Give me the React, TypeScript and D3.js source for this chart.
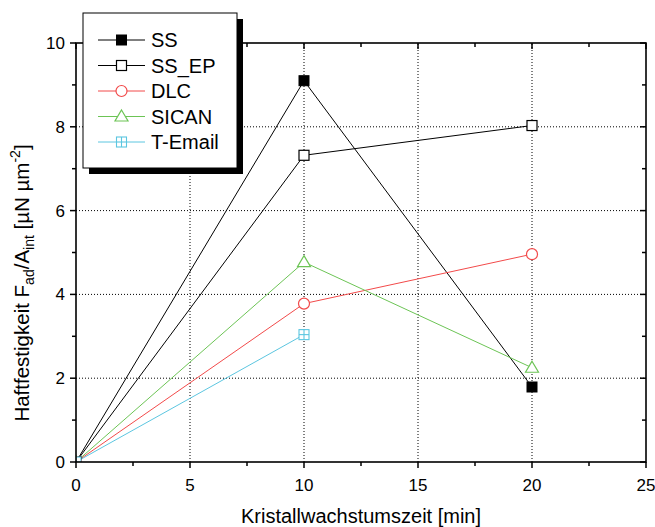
import React from "react";
import * as d3 from "d3";

const times = [0, 10, 20];
const seriesNames = ["SS", "SS_EP", "DLC", "SICAN", "T-Email"];
const ssValues = [0, 9.1, 1.79];
const ssEpValues = [0, 7.32, 8.03];
const dlcValues = [0, 3.78, 4.96];
const sicanValues = [0, 4.77, 2.25];
const tEmailValues = [0, 3.04];
const xTicks = [0, 5, 10, 15, 20, 25];
const yTicks = [0, 2, 4, 6, 8, 10];

const W = 655, H = 527;
const left = 76, right = 646, top = 43, bottom = 462;

const colors: Record<string, string> = {
  SS: "#000000",
  SS_EP: "#000000",
  DLC: "#f24a4a",
  SICAN: "#6cc455",
  "T-Email": "#5cc6e0",
};
const markerType: Record<string, string> = {
  SS: "filledSquare",
  SS_EP: "openSquare",
  DLC: "circle",
  SICAN: "triangle",
  "T-Email": "crossSquare",
};

const seriesValues: Record<string, number[]> = {
  SS: ssValues,
  SS_EP: ssEpValues,
  DLC: dlcValues,
  SICAN: sicanValues,
  "T-Email": tEmailValues,
};

function Marker({ type, x, y, color }: { type: string; x: number; y: number; color: string }) {
  const s = 5;
  if (type === "filledSquare")
    return <rect x={x - s} y={y - s} width={2 * s} height={2 * s} fill={color} stroke={color} strokeWidth={1} />;
  if (type === "openSquare")
    return <rect x={x - s} y={y - s} width={2 * s} height={2 * s} fill="white" stroke={color} strokeWidth={1.2} />;
  if (type === "circle") return <circle cx={x} cy={y} r={5.5} fill="white" stroke={color} strokeWidth={1.2} />;
  if (type === "triangle")
    return (
      <path
        d={`M${x},${y - 6.5} L${x + 6.5},${y + 4.5} L${x - 6.5},${y + 4.5} Z`}
        fill="white"
        stroke={color}
        strokeWidth={1.2}
      />
    );
  return (
    <g stroke={color} strokeWidth={1.1} fill="white">
      <rect x={x - s} y={y - s} width={2 * s} height={2 * s} />
      <line x1={x} y1={y - s} x2={x} y2={y + s} />
      <line x1={x - s} y1={y} x2={x + s} y2={y} />
    </g>
  );
}

export default function App() {
  const xScale = d3.scaleLinear().domain([0, 25]).range([left, right]);
  const yScale = d3.scaleLinear().domain([0, 10]).range([bottom, top]);
  const line = d3
    .line<[number, number]>()
    .x((d) => xScale(d[0]))
    .y((d) => yScale(d[1]));

  const xMinor = d3.range(0, 25.01, 2.5);
  const yMinor = d3.range(0, 10.01, 1);
  const font = "'Liberation Sans', Arial, sans-serif";

  const legendX = 83, legendY = 13, legendW = 154, legendH = 155;
  const legendRowY = (i: number) => 40 + i * 25.5;

  return (
    <svg
      width={W}
      height={H}
      style={{ position: "absolute", left: 0, top: 0, background: "white" }}
      fontFamily={font}
    >
      <defs>
        <clipPath id="plotClip">
          <rect x={left} y={top} width={right - left} height={bottom - top} />
        </clipPath>
      </defs>
      <rect x={0} y={0} width={W} height={H} fill="white" />

      {/* grid */}
      <g stroke="#000" strokeWidth={1} strokeDasharray="1 2">
        {xTicks
          .filter((t) => t > 0 && t < 25)
          .map((t) => (
            <line key={"gx" + t} x1={xScale(t)} x2={xScale(t)} y1={bottom} y2={top} />
          ))}
        {yTicks
          .filter((t) => t > 0 && t < 10)
          .map((t) => (
            <line key={"gy" + t} x1={left} x2={right} y1={yScale(t)} y2={yScale(t)} />
          ))}
      </g>

      {/* series */}
      <g clipPath="url(#plotClip)">
        {seriesNames.map((name) => {
          const vals = seriesValues[name];
          const pts = vals.map((v, i) => [times[i], v] as [number, number]);
          return (
            <path key={"l" + name} d={line(pts) || ""} fill="none" stroke={colors[name]} strokeWidth={1} />
          );
        })}
        {seriesNames.map((name) => {
          const vals = seriesValues[name];
          return (
            <g key={"m" + name}>
              {vals.map((v, i) => (
                <Marker
                  key={i}
                  type={markerType[name]}
                  x={xScale(times[i])}
                  y={yScale(v)}
                  color={colors[name]}
                />
              ))}
            </g>
          );
        })}
      </g>

      {/* frame */}
      <rect x={left} y={top} width={right - left} height={bottom - top} fill="none" stroke="#000" strokeWidth={1.6} />

      {/* ticks */}
      <g stroke="#000" strokeWidth={1.5}>
        {xMinor.map((t) => {
          const major = t % 5 === 0;
          const len = major ? 6 : 4;
          return (
            <g key={"tx" + t}>
              <line x1={xScale(t)} x2={xScale(t)} y1={bottom} y2={bottom + len} />
              <line x1={xScale(t)} x2={xScale(t)} y1={top} y2={top + len} />
            </g>
          );
        })}
        {yMinor.map((t) => {
          const major = t % 2 === 0;
          const len = major ? 6 : 4;
          return (
            <g key={"ty" + t}>
              <line x1={left - len} x2={left} y1={yScale(t)} y2={yScale(t)} />
              <line x1={right - len} x2={right} y1={yScale(t)} y2={yScale(t)} />
            </g>
          );
        })}
      </g>

      {/* tick labels */}
      <g fontSize={17} fill="#000">
        {xTicks.map((t) => (
          <text key={"lx" + t} x={xScale(t)} y={491} textAnchor="middle">
            {t}
          </text>
        ))}
        {yTicks.map((t) => (
          <text key={"ly" + t} x={65} y={yScale(t) + 6} textAnchor="end">
            {t}
          </text>
        ))}
      </g>

      {/* axis titles */}
      <text x={(left + right) / 2} y={523} textAnchor="middle" fontSize={20} fill="#000">
        Kristallwachstumszeit [min]
      </text>
      <text transform="translate(29,283) rotate(-90)" textAnchor="middle" fontSize={20.5} fill="#000">
        <tspan>Haftfestigkeit F</tspan>
        <tspan fontSize={14} dy={5}>ad</tspan>
        <tspan dy={-5}>/A</tspan>
        <tspan fontSize={14} dy={5}>int</tspan>
        <tspan dy={-5}> [µN µm</tspan>
        <tspan fontSize={14} dy={-9}>-2</tspan>
        <tspan dy={9}>]</tspan>
      </text>

      {/* legend */}
      <rect x={legendX + 6} y={legendY + 6} width={legendW} height={legendH} fill="#000" />
      <rect x={legendX} y={legendY} width={legendW} height={legendH} fill="white" stroke="#000" strokeWidth={1} />
      {seriesNames.map((name, i) => {
        const y = legendRowY(i);
        return (
          <g key={"lg" + name}>
            <line x1={98} x2={145} y1={y} y2={y} stroke={colors[name]} strokeWidth={1} />
            <Marker type={markerType[name]} x={121.5} y={y} color={colors[name]} />
            <text x={151} y={y + 7} fontSize={20} fill="#000">
              {name}
            </text>
          </g>
        );
      })}
    </svg>
  );
}
